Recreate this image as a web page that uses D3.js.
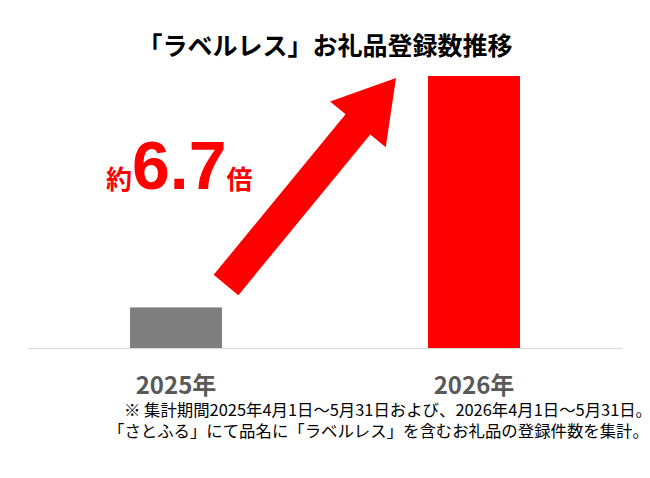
<!DOCTYPE html>
<html><head><meta charset="utf-8">
<script src="https://cdn.jsdelivr.net/npm/d3@7"></script>
<style>body{margin:0;background:#fff}</style></head>
<body><svg id="c" width="650" height="478"></svg>
<script>
const categories=["2025年","2026年"];
const values=[1,6.7];
const colors=["#7f7f7f","#ff0000"];
const title="「ラベルレス」お礼品登録数推移";
const notes=["※ 集計期間2025年4月1日～5月31日および、2026年4月1日～5月31日。","「さとふる」にて品名に「ラベルレス」を含むお礼品の登録件数を集計。"];
const F="'Noto Sans CJK JP','Noto Sans',sans-serif";
const svg=d3.select("#c");
const x=d3.scalePoint().domain(categories).range([176,474]);
const bw=92;
const y=d3.scaleLinear().domain([0,6.7]).range([348,76]);
svg.append("text").attr("x",325).attr("y",55).attr("text-anchor","middle").attr("font-family",F).attr("font-weight","bold").attr("font-size",25).text(title);
svg.selectAll("rect.b").data(values).join("rect").attr("x",(d,i)=>x(categories[i])-bw/2).attr("width",bw).attr("y",d=>y(d)).attr("height",d=>348-y(d)).attr("fill",(d,i)=>colors[i]);
svg.append("line").attr("x1",28).attr("x2",622).attr("y1",348.5).attr("y2",348.5).attr("stroke","#d9d9d9");
svg.selectAll("text.c").data(categories).join("text").attr("x",d=>x(d)).attr("y",394).attr("text-anchor","middle").attr("font-family",F).attr("font-weight","bold").attr("font-size",24).attr("fill","#595959").text(d=>d);
const p0=[226,285],p1=[396,78];
const dx=p1[0]-p0[0],dy=p1[1]-p0[1],L=Math.hypot(dx,dy),ux=dx/L,uy=dy/L,nx=-uy,ny=ux;
const sw=16,hw=36,hl=60;
const bx=p1[0]-ux*hl,by=p1[1]-uy*hl;
const pts=[[p0[0]+nx*sw,p0[1]+ny*sw],[bx+nx*sw,by+ny*sw],[bx+nx*hw,by+ny*hw],p1,[bx-nx*hw,by-ny*hw],[bx-nx*sw,by-ny*sw],[p0[0]-nx*sw,p0[1]-ny*sw]];
svg.append("polygon").attr("points",pts.map(p=>p.join(",")).join(" ")).attr("fill","#ff0000");
const t=svg.append("text").attr("y",189).attr("font-family",F).attr("font-weight","bold").attr("fill","#ff0000");
t.append("tspan").attr("x",106).attr("font-size",26).text("約");
t.append("tspan").attr("font-family","'Liberation Sans',Arial,sans-serif").attr("font-size",68).text("6.7");
t.append("tspan").attr("font-size",26).text("倍");
svg.selectAll("text.n").data(notes).join("text").attr("x",(d,i)=>i?108:124).attr("y",(d,i)=>416+i*21).attr("font-family",F).attr("font-size",16.4).attr("fill","#000").text(d=>d);
</script></body></html>
